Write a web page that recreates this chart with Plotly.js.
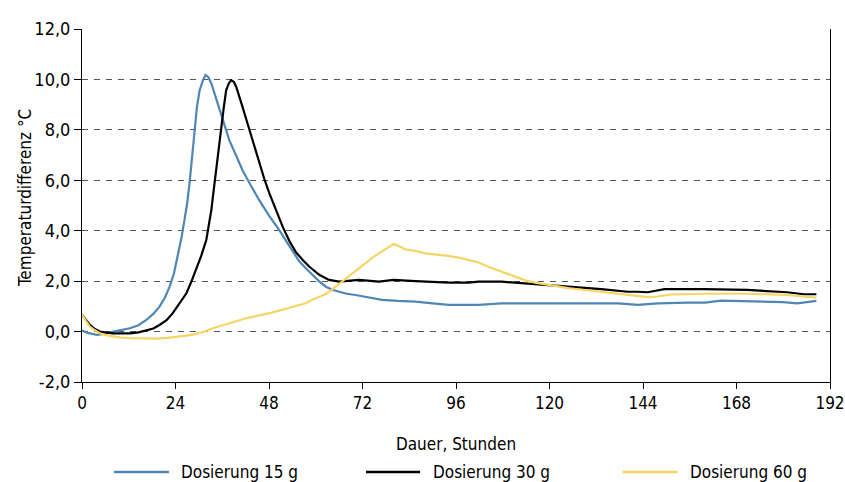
<!DOCTYPE html>
<html>
<head>
<meta charset="utf-8">
<script src="https://cdn.plot.ly/plotly-3.0.1.min.js"></script>
<style>
  html, body { margin: 0; padding: 0; background: #ffffff; }
  #chart { width: 845px; height: 482px; }
</style>
</head>
<body>
<div id="chart"></div>
<script>
// ---- Data ----
const seriesNames = ["Dosierung 15 g", "Dosierung 30 g", "Dosierung 60 g"];

const hours15 = [0, 1.5, 3.8, 6, 8, 10, 12.3, 14.5, 16.5, 18.3, 19.9, 21.3, 22.5, 23.6, 24.6, 25.5, 26.3, 27.0, 27.6, 28.3, 28.9, 29.5, 30.2, 31.0, 31.7, 32.4, 33.2, 34.2, 35.3, 36.5, 37.8, 39.5, 41.2, 43.3, 45.5, 48, 50.6, 53, 55.7, 57.5, 59.1, 60.8, 62.6, 64.3, 66, 68, 70.2, 73.5, 77, 81, 85.6, 90, 94.1, 98, 101.8, 107.7, 112, 118, 124.8, 131, 137.6, 142.7, 147.8, 155.5, 160, 164, 170, 176.8, 180, 183.6, 186, 188.5];
const temp15 = [0.04, -0.05, -0.13, -0.08, 0.0, 0.05, 0.13, 0.25, 0.46, 0.7, 0.99, 1.35, 1.78, 2.3, 2.97, 3.7, 4.42, 5.1, 5.88, 7.0, 8.12, 8.9, 9.57, 9.95, 10.17, 10.1, 9.84, 9.35, 8.78, 8.2, 7.59, 7.0, 6.4, 5.8, 5.21, 4.6, 4.03, 3.45, 2.8, 2.5, 2.25, 2.0, 1.78, 1.66, 1.58, 1.5, 1.45, 1.35, 1.26, 1.22, 1.19, 1.12, 1.06, 1.06, 1.06, 1.12, 1.12, 1.14, 1.15, 1.14, 1.12, 1.06, 1.12, 1.15, 1.15, 1.23, 1.2, 1.19, 1.17, 1.12, 1.18, 1.22];

const hours30 = [0, 1, 2.0, 3.3, 4.6, 6, 7.9, 10, 12.3, 14.5, 16.5, 18.3, 19.9, 21.7, 23.3, 25, 26.8, 28, 29.3, 30.6, 31.9, 32.6, 33.2, 33.8, 34.4, 35.1, 35.7, 36.4, 37.0, 37.7, 38.3, 39.0, 39.6, 40.4, 41.2, 42.1, 43.0, 44.2, 45.5, 46.8, 48.1, 49.8, 51.5, 53.2, 54.9, 56.6, 58.3, 60.9, 63.4, 66, 71.1, 76.2, 80, 85.6, 94.1, 99.2, 101.8, 107.7, 116.3, 124.8, 133.3, 140.1, 142.7, 145.2, 149.5, 159.7, 170.8, 181, 185.3, 188.5];
const temp30 = [0.66, 0.45, 0.27, 0.1, 0.0, -0.03, -0.07, -0.07, -0.07, -0.03, 0.04, 0.12, 0.26, 0.45, 0.73, 1.1, 1.52, 1.95, 2.44, 3.0, 3.63, 4.2, 4.82, 5.6, 6.4, 7.3, 8.12, 8.9, 9.57, 9.85, 9.97, 9.9, 9.7, 9.35, 8.91, 8.45, 7.99, 7.3, 6.67, 6.05, 5.48, 4.8, 4.16, 3.6, 3.15, 2.85, 2.58, 2.25, 2.05, 1.98, 2.05, 1.98, 2.05, 2.0, 1.94, 1.94, 1.98, 1.98, 1.89, 1.78, 1.68, 1.58, 1.58, 1.56, 1.68, 1.68, 1.65, 1.56, 1.48, 1.48];

const hours60 = [0, 1, 2.0, 3.3, 4.6, 6.3, 8.0, 10, 12.3, 15.5, 19.1, 22, 25.1, 27.3, 29.3, 31.5, 33.6, 35.7, 37.8, 40, 42.1, 44.3, 46.4, 48.5, 50.6, 52.7, 54.9, 57.4, 59.1, 60.9, 62.6, 63.8, 65.1, 66.8, 68.5, 70.6, 72.8, 74.5, 76.2, 78.1, 80, 81.5, 83, 85.5, 88.1, 91, 94.1, 97, 99.2, 101.8, 104.3, 107.7, 110, 112, 114, 116.3, 120.5, 124.8, 129, 133.3, 136.7, 140.1, 142.7, 145.2, 147.8, 151.2, 159.7, 170.8, 181, 185, 188.5];
const temp60 = [0.66, 0.42, 0.2, 0.05, -0.07, -0.15, -0.2, -0.24, -0.26, -0.27, -0.28, -0.25, -0.2, -0.15, -0.09, 0.0, 0.13, 0.23, 0.33, 0.43, 0.53, 0.6, 0.66, 0.74, 0.83, 0.92, 1.0, 1.12, 1.26, 1.37, 1.49, 1.62, 1.78, 1.98, 2.18, 2.45, 2.71, 2.92, 3.1, 3.3, 3.47, 3.38, 3.26, 3.2, 3.1, 3.05, 3.0, 2.92, 2.84, 2.74, 2.57, 2.38, 2.25, 2.11, 2.02, 1.94, 1.83, 1.72, 1.65, 1.58, 1.52, 1.48, 1.41, 1.37, 1.39, 1.47, 1.5, 1.5, 1.45, 1.4, 1.35];

const xTicks = [0, 24, 48, 72, 96, 120, 144, 168, 192];
const yTicks = [-2, 0, 2, 4, 6, 8, 10, 12];
const yTickText = ["-2,0", "0,0", "2,0", "4,0", "6,0", "8,0", "10,0", "12,0"];

const xTitle = "Dauer, Stunden";
const yTitle = "Temperaturdifferenz °C";

const colors = ["#4f86b3", "#000000", "#f5d565"];

// ---- Chart ----
const FONT = "'DejaVu Sans Condensed', 'DejaVu Sans', sans-serif";

const traces = [
  { x: hours15, y: temp15, name: seriesNames[0] },
  { x: hours30, y: temp30, name: seriesNames[1] },
  { x: hours60, y: temp60, name: seriesNames[2] }
].map((t, i) => Object.assign(t, {
  type: "scatter",
  mode: "lines",
  line: { color: colors[i], width: 2.2 },
  showlegend: false
}));

// custom legend (line sample + label) placed below the plot, in paper coordinates
const legendLineX = [[0.0428, 0.1163], [0.3797, 0.4519], [0.7226, 0.7961]];
const legendTextX = [0.1297, 0.4666, 0.8096];
const legendY = -0.255;

const shapes = legendLineX.map((p, i) => ({
  type: "line", xref: "paper", yref: "paper",
  x0: p[0], x1: p[1], y0: legendY, y1: legendY,
  line: { color: colors[i], width: 2.5 }
}));

const annotations = seriesNames.map((n, i) => ({
  text: n, xref: "paper", yref: "paper",
  x: legendTextX[i], y: legendY, xanchor: "left", yanchor: "middle",
  showarrow: false,
  font: { family: FONT, size: 17, color: "#000000" }
}));

annotations.push({
  text: yTitle,
  xref: "paper", yref: "paper",
  x: -0.0762, y: 0.521,
  xanchor: "center", yanchor: "middle",
  textangle: -90,
  showarrow: false,
  font: { family: FONT, size: 17, color: "#000000" }
});

const layout = {
  width: 845,
  height: 482,
  margin: { l: 82, r: 15, t: 29, b: 100, autoexpand: false },
  paper_bgcolor: "#ffffff",
  plot_bgcolor: "#ffffff",
  separators: ",.",
  font: { family: FONT, size: 17, color: "#000000" },
  showlegend: false,
  xaxis: {
    range: [0, 192],
    tickvals: xTicks,
    ticktext: xTicks.map(String),
    ticks: "outside",
    ticklen: 6,
    tickcolor: "#000000",
    tickwidth: 1,
    showline: true,
    linecolor: "#000000",
    linewidth: 1,
    showgrid: false,
    zeroline: false,
    automargin: false,
    ticklabeloverflow: "allow",
    tickfont: { family: FONT, size: 17 },
    title: { text: xTitle, font: { family: FONT, size: 17 }, standoff: 25 }
  },
  yaxis: {
    range: [-2, 12],
    tickvals: yTicks,
    ticktext: yTickText,
    ticks: "outside",
    ticklen: 7,
    tickcolor: "#000000",
    tickwidth: 1,
    showline: true,
    mirror: true,
    linecolor: "#000000",
    linewidth: 1,
    showgrid: true,
    gridcolor: "#555555",
    gridwidth: 1,
    griddash: "6px,6px",
    zeroline: false,
    automargin: false,
    tickfont: { family: FONT, size: 18 }
  },
  shapes: shapes,
  annotations: annotations
};

Plotly.newPlot("chart", traces, layout, { displayModeBar: false, staticPlot: true });
</script>
</body>
</html>
